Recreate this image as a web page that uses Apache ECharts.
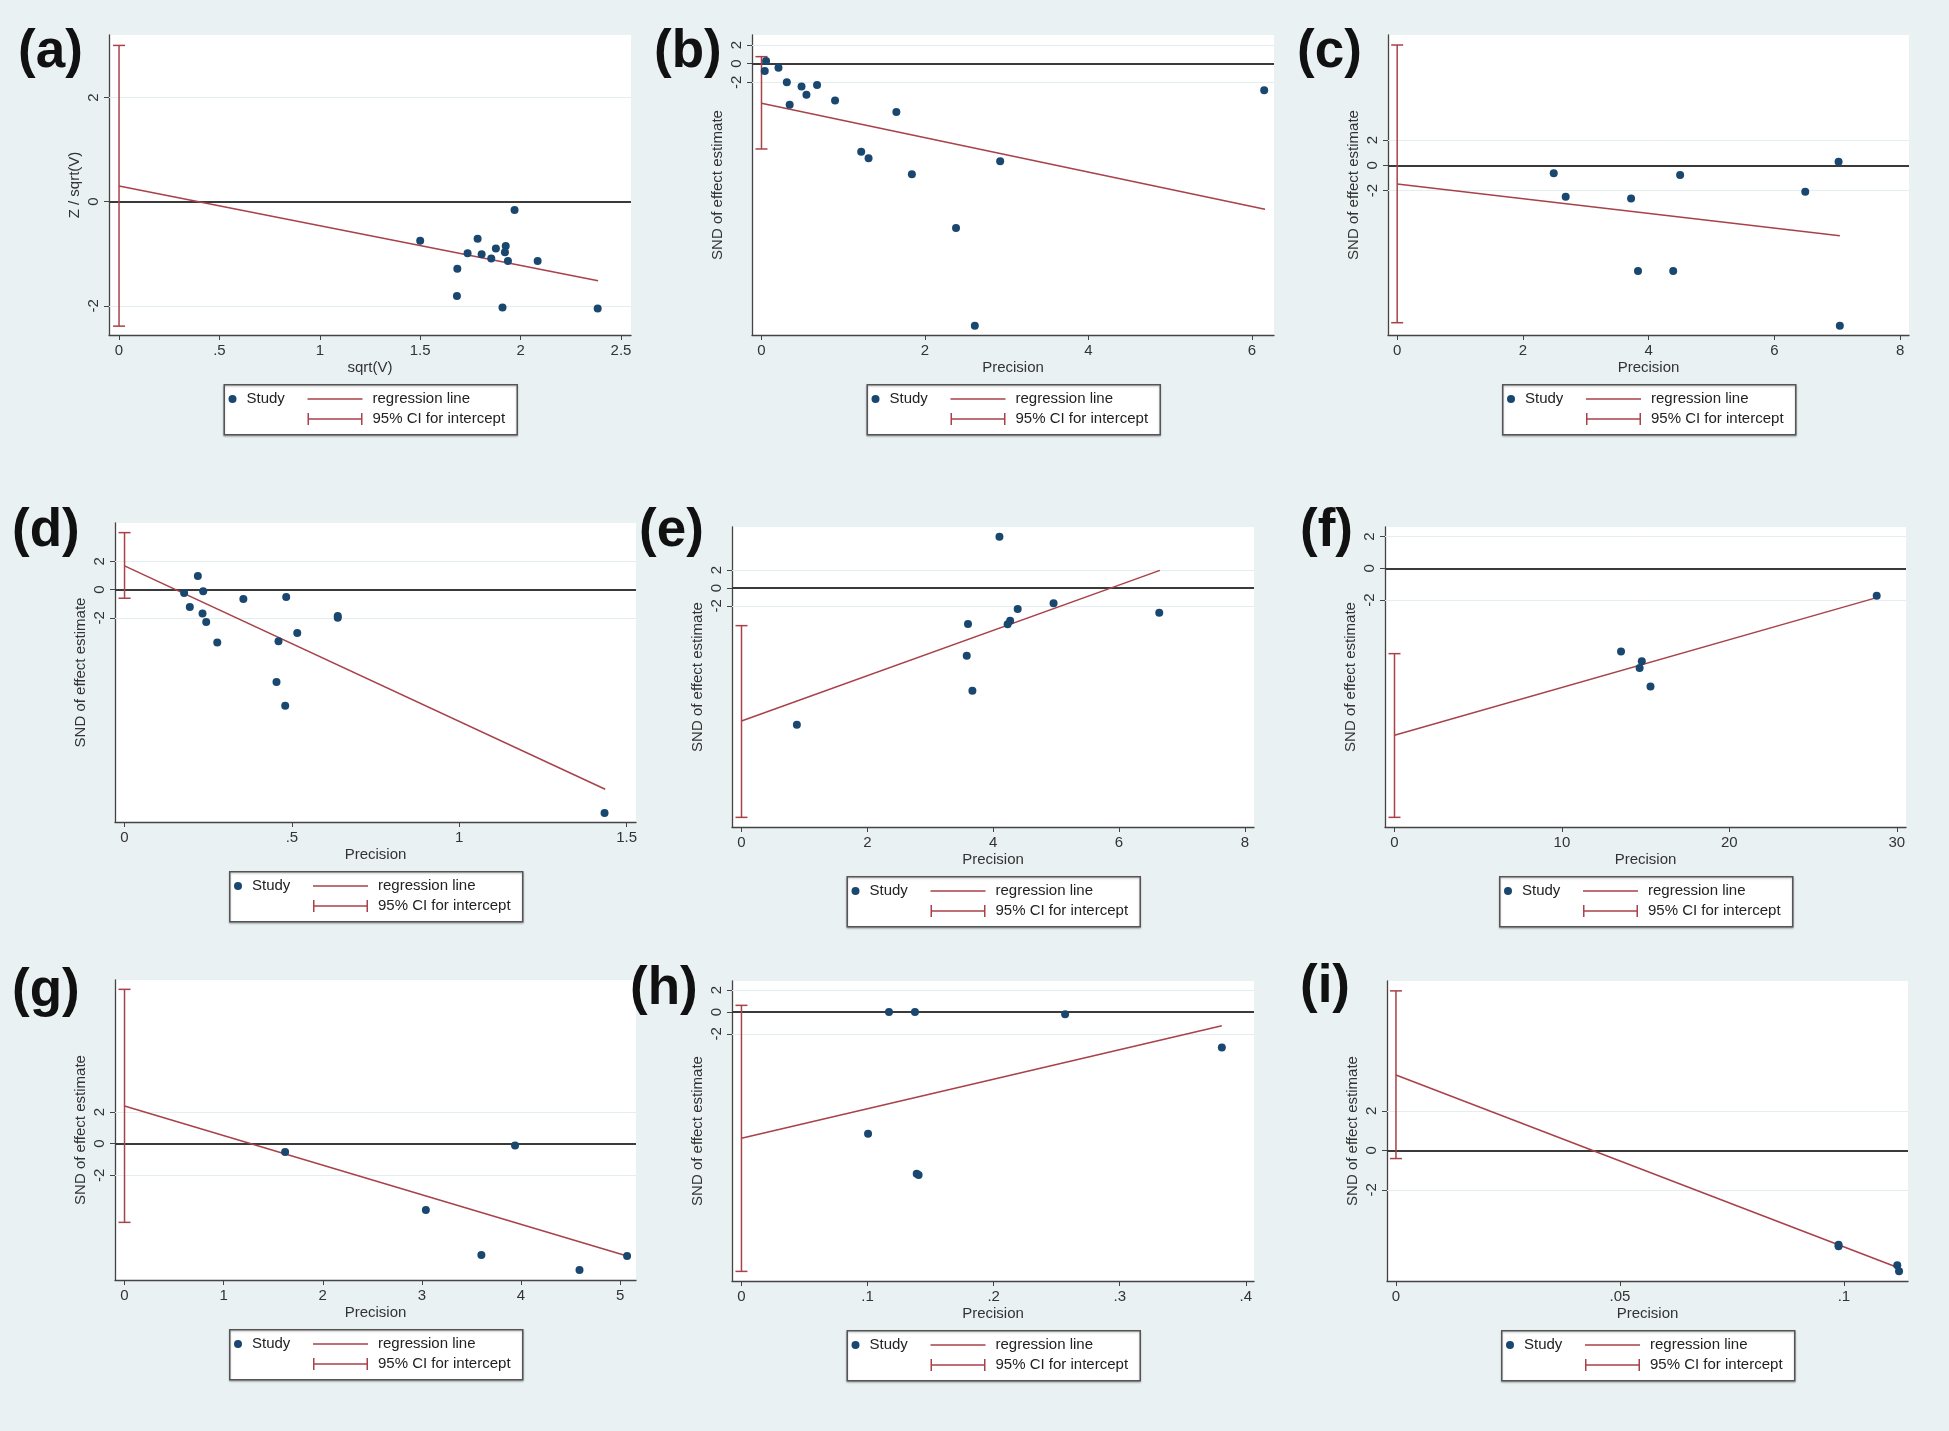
<!DOCTYPE html>
<html>
<head>
<meta charset="utf-8">
<title>Egger regression plots (a)-(i)</title>
<script src="https://cdn.jsdelivr.net/npm/echarts@6.0.0/dist/echarts.min.js"></script>
<style>
  html, body { margin: 0; padding: 0; background: #e9f1f3; }
  #chart { width: 1949px; height: 1431px; }
</style>
</head>
<body>
<div id="chart"></div>
<script>
// ---- data ----
// study points [x, y]
var studyA = [[1.50,-0.75],[1.786,-0.71],[1.97,-0.16],[1.736,-0.99],[1.806,-1.01],[1.877,-0.90],[1.854,-1.09],[1.926,-0.85],[1.922,-0.97],[1.937,-1.14],[2.085,-1.14],[1.685,-1.29],[1.683,-1.81],[1.91,-2.03],[2.384,-2.05]];
var studyB = [[0.056,0.29],[0.04,-0.79],[0.208,-0.43],[0.31,-2.0],[0.49,-2.46],[0.68,-2.29],[0.55,-3.32],[0.345,-4.39],[0.90,-3.96],[1.65,-5.18],[1.22,-9.43],[1.31,-10.14],[1.84,-11.86],[2.92,-10.46],[2.38,-17.6],[2.61,-28.07],[6.15,-2.86]];
var studyC = [[2.49,-0.63],[2.68,-2.47],[3.72,-2.61],[4.5,-0.76],[6.49,-2.08],[7.02,0.29],[3.83,-8.34],[4.39,-8.34],[7.04,-12.66]];
var studyD = [[0.219,0.96],[0.235,-0.12],[0.178,-0.24],[0.195,-1.22],[0.233,-1.69],[0.244,-2.28],[0.277,-3.74],[0.355,-0.66],[0.483,-0.52],[0.46,-3.65],[0.516,-3.06],[0.637,-1.86],[0.637,-1.98],[0.454,-6.52],[0.48,-8.19],[1.434,-15.76]];
var studyE = [[4.10,5.76],[4.96,-1.72],[4.39,-2.36],[6.64,-2.77],[4.27,-3.66],[4.23,-4.07],[3.60,-4.04],[3.58,-7.59],[3.67,-11.51],[0.88,-15.33]];
var studyF = [[28.8,-1.73],[13.53,-5.26],[14.77,-5.87],[14.64,-6.29],[15.29,-7.47]];
var studyG = [[1.62,-0.53],[3.94,-0.11],[3.04,-4.19],[3.60,-7.03],[4.59,-7.98],[5.07,-7.09]];
var studyH = [[0.117,0],[0.1376,0],[0.2567,-0.21],[0.381,-3.24],[0.1004,-11.15],[0.139,-14.81],[0.1405,-14.93]];
var studyI = [[0.0988,-4.78],[0.0988,-4.86],[0.1119,-5.82],[0.1123,-6.13]];

// regression line end points [[0, intercept], [xEnd, yEnd]]
var regA = [[0,0.30],[2.386,-1.52]];
var regB = [[0,-4.25],[6.16,-15.6]];
var regC = [[0,-1.47],[7.04,-5.55]];
var regD = [[0,1.67],[1.436,-14.09]];
var regE = [[0,-14.92],[6.65,1.98]];
var regF = [[0,-10.55],[28.8,-1.85]];
var regG = [[0,2.38],[5.07,-7.09]];
var regH = [[0,-11.57],[0.381,-1.25]];
var regI = [[0,3.81],[0.112,-5.94]];

// 95% CI for intercept [low, high]
var ciA = [-2.39, 3.0];
var ciB = [-9.14, 0.75];
var ciC = [-12.42, 9.5];
var ciD = [-0.61, 4.02];
var ciE = [-25.72, -4.22];
var ciF = [-15.73, -5.39];
var ciG = [-4.97, 9.75];
var ciH = [-23.76, 0.61];
var ciI = [-0.42, 8.07];

// axis ranges and ticks
var xRanges = [[-0.05,2.55],[-0.116,6.27],[-0.146,8.14],[-0.0285,1.528],[-0.151,8.146],[-0.567,30.55],[-0.096,5.16],[-0.0075,0.4065],[-0.002,0.1143]];
var yRanges = [[-2.56,3.2],[-29.07,3.07],[-13.39,10.29],[-16.4,4.7],[-26.8,6.84],[-16.34,2.61],[-8.61,10.34],[-24.64,2.84],[-6.62,8.57]];
var xTicks = [[0,0.5,1,1.5,2,2.5],[0,2,4,6],[0,2,4,6,8],[0,0.5,1,1.5],[0,2,4,6,8],[0,10,20,30],[0,1,2,3,4,5],[0,0.1,0.2,0.3,0.4],[0,0.05,0.1]];
var yTicks = [-2, 0, 2];
var gridLines = [-2, 2];

var panelLabels = ['(a)','(b)','(c)','(d)','(e)','(f)','(g)','(h)','(i)'];
var xTitles = ['sqrt(V)','Precision','Precision','Precision','Precision','Precision','Precision','Precision','Precision'];
var yTitles = ['Z / sqrt(V)','SND of effect estimate','SND of effect estimate','SND of effect estimate','SND of effect estimate','SND of effect estimate','SND of effect estimate','SND of effect estimate','SND of effect estimate'];

var studies = [studyA, studyB, studyC, studyD, studyE, studyF, studyG, studyH, studyI];
var regs = [regA, regB, regC, regD, regE, regF, regG, regH, regI];
var cis = [ciA, ciB, ciC, ciD, ciE, ciF, ciG, ciH, ciI];

// ---- layout (pixels) ----
var boxes = [
  [109,35,522,300],[752,35,522,300],[1388,35,521,300],
  [115,523,521,299],[732,527,522,300],[1385,527,521,300],
  [115,980,521,300],[732,981,522,300],[1387,981,521,300]
];
var labelPos = [[18,26],[654,26],[1297,26],[12,505],[639,505],[1300,505],[12,965],[630,963],[1300,961]];

var FONT = "'Liberation Sans', Arial, Helvetica, sans-serif";
var RED = '#a8414a';
var NAVY = '#1a476f';
var AXIS = '#444';
var TXT = '#333';
// legend icons: tiny corner specks keep the 55x12 box so nothing is stretched
var LINE_ICON = 'path://M0,0H0.01V0.01H0Z M0,5.25H55V6.75H0Z M54.99,11.99H55V12H54.99Z';
var CI_ICON = 'path://M0,0H1.5V12H0Z M0,5.25H55V6.75H0Z M53.5,0H55V12H53.5Z';
var LEG_W = 293, LEG_H = 50;

function stataNum(v) {
  var s = String(+(+v).toFixed(6));
  return s.replace(/^(-?)0\./, '$1.');
}

function renderCI(params, api) {
  var x = api.value(0);
  var top = api.coord([x, api.value(2)]);
  var bot = api.coord([x, api.value(1)]);
  var cap = 6;
  var st = { stroke: RED, lineWidth: 1.5 };
  return {
    type: 'group',
    children: [
      { type: 'line', shape: { x1: top[0], y1: top[1], x2: bot[0], y2: bot[1] }, style: st },
      { type: 'line', shape: { x1: top[0] - cap, y1: top[1], x2: top[0] + cap, y2: top[1] }, style: st },
      { type: 'line', shape: { x1: bot[0] - cap, y1: bot[1], x2: bot[0] + cap, y2: bot[1] }, style: st }
    ]
  };
}

var titles = [], grids = [], xAxes = [], yAxes = [], series = [], legends = [], graphics = [];

panelLabels.forEach(function (lab, i) {
  var b = boxes[i];
  titles.push({
    text: lab, left: labelPos[i][0], top: labelPos[i][1], padding: 0,
    textStyle: { fontSize: 53, fontWeight: 'bold', color: '#111', fontFamily: FONT }
  });
  grids.push({
    left: b[0], top: b[1], width: b[2], height: b[3],
    show: true, backgroundColor: '#fff', borderWidth: 0
  });
  xAxes.push({
    type: 'value', gridIndex: i, min: xRanges[i][0], max: xRanges[i][1],
    name: xTitles[i], nameLocation: 'middle', nameGap: 25,
    nameTextStyle: { fontSize: 15, color: TXT, fontFamily: FONT },
    axisLine: { onZero: false, lineStyle: { color: AXIS, width: 1.3 } },
    axisTick: { customValues: xTicks[i], length: 5, lineStyle: { color: AXIS, width: 1 } },
    axisLabel: { customValues: xTicks[i], formatter: stataNum, fontSize: 15, color: TXT, fontFamily: FONT, margin: 8 },
    splitLine: { show: false }
  });
  yAxes.push({
    type: 'value', gridIndex: i, min: yRanges[i][0], max: yRanges[i][1],
    name: yTitles[i], nameLocation: 'middle', nameGap: 27,
    nameTextStyle: { fontSize: 15, color: TXT, fontFamily: FONT },
    axisLine: { onZero: false, lineStyle: { color: AXIS, width: 1.3 } },
    axisTick: { customValues: yTicks, length: 5, lineStyle: { color: AXIS, width: 1 } },
    axisLabel: { customValues: yTicks, formatter: stataNum, rotate: 90, fontSize: 15, color: TXT, fontFamily: FONT, margin: 8 },
    splitLine: { show: false }
  });

  var marks = gridLines.map(function (g) {
    return { yAxis: g, lineStyle: { color: '#e4edf0', width: 1, type: 'solid' } };
  });
  marks.push({ yAxis: 0, lineStyle: { color: '#3a3a3a', width: 2, type: 'solid' } });

  series.push({
    type: 'line', name: 'regression line', xAxisIndex: i, yAxisIndex: i,
    data: regs[i], symbol: 'none', z: 2, silent: true,
    lineStyle: { color: RED, width: 1.5 }, itemStyle: { color: RED },
    markLine: { z: 1, silent: true, symbol: 'none', label: { show: false }, data: marks }
  });
  series.push({
    type: 'custom', name: '95% CI for intercept', xAxisIndex: i, yAxisIndex: i,
    data: [[0, cis[i][0], cis[i][1]]], encode: { x: 0, y: [1, 2] },
    renderItem: renderCI, itemStyle: { color: RED }, z: 2, silent: true
  });
  series.push({
    type: 'scatter', name: 'Study', xAxisIndex: i, yAxisIndex: i,
    data: studies[i], symbolSize: 8, z: 3, silent: true,
    itemStyle: { color: NAVY, opacity: 1 }
  });

  var bx = b[0] + b[2] / 2 - LEG_W / 2;
  var by = b[1] + b[3] + 49;
  graphics.push({
    type: 'rect', left: bx, top: by, z: 1,
    shape: { width: LEG_W, height: LEG_H },
    style: { fill: '#fff', stroke: '#555', lineWidth: 1.5, shadowBlur: 2, shadowOffsetY: 1, shadowColor: 'rgba(0,0,0,0.25)' }
  });
  var legText = { fontSize: 15, color: '#222', fontFamily: FONT, lineHeight: 18, padding: [0, 0, 0, 5] };
  legends.push({
    left: bx + 5, top: by + 6, padding: 0, selectedMode: false, z: 5,
    itemWidth: 8, itemHeight: 8,
    data: [{ name: 'Study', icon: 'circle' }],
    textStyle: legText
  });
  legends.push({
    left: bx + 84, top: by + 6, padding: 0, selectedMode: false, z: 5,
    orient: 'vertical', itemGap: 2, itemWidth: 55, itemHeight: 12,
    data: [{ name: 'regression line', icon: LINE_ICON }, { name: '95% CI for intercept', icon: CI_ICON }],
    textStyle: legText
  });
});

var chart = echarts.init(document.getElementById('chart'));
chart.setOption({
  backgroundColor: '#e9f1f3',
  animation: false,
  title: titles,
  grid: grids,
  xAxis: xAxes,
  yAxis: yAxes,
  legend: legends,
  graphic: graphics,
  series: series
});
</script>
</body>
</html>
